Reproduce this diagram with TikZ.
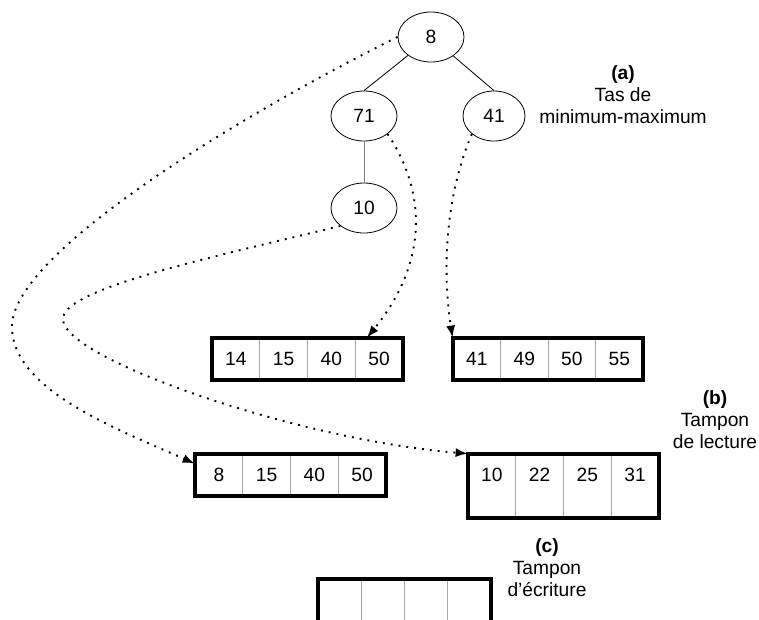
\documentclass[tikz,border=0pt]{standalone}
\usepackage{fontspec}
\setmainfont{Liberation Sans}
\usetikzlibrary{shapes.geometric,arrows.meta}
\begin{document}
\begin{tikzpicture}[x=1pt,y=-1pt,
  every node/.style={font=\fontsize{19.2}{22}\selectfont},
  heap/.style={ellipse,draw,line width=0.8pt,minimum width=66pt,minimum height=50pt,inner sep=0pt},
  tree/.style={line width=0.8pt},
  cell/.style={rectangle,draw=gray!70,line width=0.8pt,minimum width=47.75pt,minimum height=42pt,inner sep=0pt},
  tallcell/.style={cell,minimum height=64pt},
  wcell/.style={cell,minimum width=43.25pt,minimum height=60pt},
  frame/.style={line width=4pt},
  ptr/.style={line width=1.9pt,dash pattern=on 1.9pt off 6pt,-{Latex[length=12pt,width=9pt]}},
  caption/.style={align=center}
]
\useasboundingbox (0,0) rectangle (759,619);
\clip (0,0) rectangle (759,619);

% heap
\node[heap] (n8) at (431,37) {8};
\node[heap] (n71) at (364,116) {71};
\node[heap,minimum width=62pt] (n41) at (494,116) {41};
\node[heap] (n10) at (364,208) {10};
\draw[tree] (n8) -- (n71.north);
\draw[tree] (n8) -- (n41.north);
\draw[tree,draw=gray] (n71) -- (n10);

% buffer 1
\node[cell] (b1c1) at (235.9,359) {14};
\node[cell] (b1c2) at (283.6,359) {15};
\node[cell] (b1c3) at (331.4,359) {40};
\node[cell] (b1c4) at (379.1,359) {50};
\draw[frame] (b1c1.north west) rectangle (b1c4.south east);

% buffer 2
\node[cell,minimum width=47.5pt] (b2c1) at (476.75,359) {41};
\node[cell,minimum width=47.5pt] (b2c2) at (524.25,359) {49};
\node[cell,minimum width=47.5pt] (b2c3) at (571.75,359) {50};
\node[cell,minimum width=47.5pt] (b2c4) at (619.25,359) {55};
\draw[frame] (b2c1.north west) rectangle (b2c4.south east);

% buffer 3
\node[cell] (b3c1) at (218.9,475) {8};
\node[cell] (b3c2) at (266.6,475) {15};
\node[cell] (b3c3) at (314.4,475) {40};
\node[cell] (b3c4) at (362.1,475) {50};
\draw[frame] (b3c1.north west) rectangle (b3c4.south east);

% buffer 4
\node[tallcell] (b4c1) at (491.9,486) {};
\node[tallcell] (b4c2) at (539.6,486) {};
\node[tallcell] (b4c3) at (587.4,486) {};
\node[tallcell] (b4c4) at (635.1,486) {};
\node (t41) at ([yshift=-21pt]b4c1.north) {10};
\node (t42) at ([yshift=-21pt]b4c2.north) {22};
\node (t43) at ([yshift=-21pt]b4c3.north) {25};
\node (t44) at ([yshift=-21pt]b4c4.north) {31};
\draw[frame] (b4c1.north west) rectangle (b4c4.south east);

% buffer 5 (write buffer)
\node[wcell] (b5c1) at (339.6,609) {};
\node[wcell] (b5c2) at (382.9,609) {};
\node[wcell] (b5c3) at (426.1,609) {};
\node[wcell] (b5c4) at (469.4,609) {};
\draw[frame] (b5c1.north west) rectangle (b5c4.south east);

% captions
\node[caption] (la) at (623,95) {\textbf{(a)}\\Tas de\\minimum-maximum};
\node[caption] (lb) at (715,420) {\textbf{(b)}\\Tampon\\de lecture};
\node[caption] (lc) at (547,568) {\textbf{(c)}\\Tampon\\d’écriture};

% pointers
\coordinate (e1) at ([yshift=-10pt]b3c1.north west);
\coordinate (e3) at ([xshift=-12pt]b1c4.north);
\draw[ptr] (n8.west) .. controls (250,110) and (15,250) .. (12,325)
  .. controls (10,390) and (120,430) .. (e1);
\draw[ptr] (n10.south west) .. controls (200,260) and (60,290) .. (63,320)
  .. controls (66,360) and (300,440) .. (b4c1.north west);
\draw[ptr] (n71.south east) .. controls (425,190) and (430,260) .. (e3);
\draw[ptr] (n41.south west) .. controls (440,210) and (445,290) .. (b2c1.north west);
\end{tikzpicture}
\end{document}
